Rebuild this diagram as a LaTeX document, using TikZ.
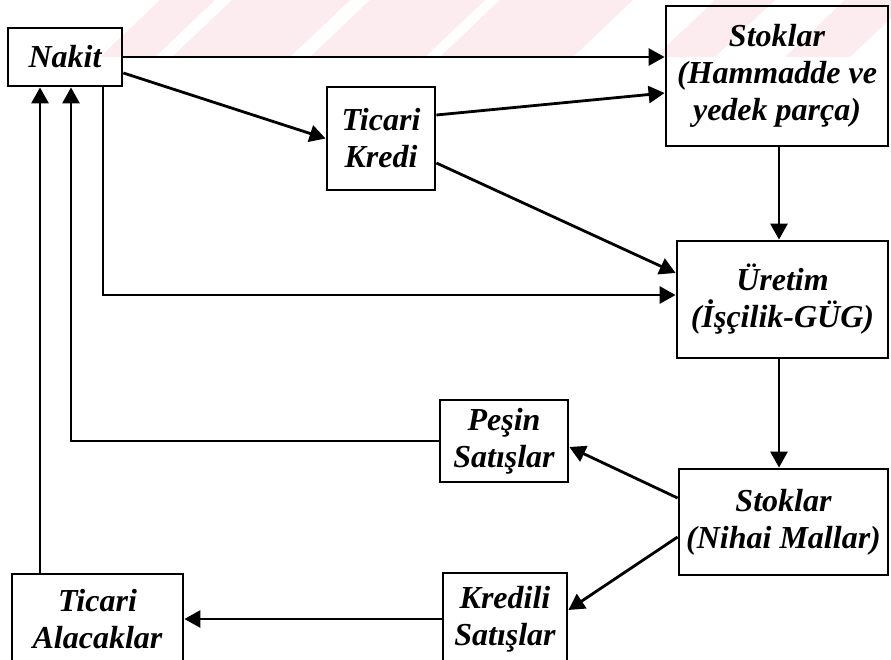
\documentclass[tikz,border=0pt]{standalone}
\usepackage{fontspec}
\setmainfont{Liberation Serif}
\usetikzlibrary{arrows.meta,calc,positioning}

\definecolor{wmpink}{RGB}{252,235,239}

\tikzset{
  box/.style={draw, line width=2.8pt, align=center, inner sep=2pt,
    font=\fontsize{32}{37}\selectfont\bfseries\itshape},
  flow/.style={line width=2.8pt, -{Triangle[length=16pt,width=17pt]}}
}

\begin{document}
\begin{tikzpicture}[x=1pt, y=-1pt, line cap=butt, line join=miter]
		\useasboundingbox (0,0) rectangle (891,660);
		
		% --- faint watermark bands at the top ---
		\foreach \a/\b in {100/155, 172/290, 310/425, 440/573, 655/715, 785/850}
			\fill[wmpink] (\a,57) -- (\b,57) -- (\b+60,0) -- (\a+60,0) -- cycle;
		
		% --- boxes ---
		\node[box, minimum width=114pt, minimum height=58pt] (nakit) at (65,57) {Nakit};
		\node[box, minimum width=108pt, minimum height=103pt] (tkredi) at (381,138.5) {Ticari\\Kredi};
		\node[box, minimum width=222pt, minimum height=140pt] (stokH) at (777,76) {Stoklar\\(Hammadde ve\\yedek parça)};
		\node[box, minimum width=211pt, minimum height=117pt] (uretim) at (782.5,299.5) {Üretim\\(İşçilik-GÜG)};
		\node[box, minimum width=128pt, minimum height=82pt] (pesin) at (504,441) {Peşin\\Satışlar};
		\node[box, minimum width=209pt, minimum height=106pt] (stokN) at (783.5,522) {Stoklar\\(Nihai Mallar)};
		\node[box, minimum width=124pt, minimum height=92pt] (kredili) at (505,619) {Kredili\\Satışlar};
		\node[box, minimum width=171pt, minimum height=91pt] (talacak) at (97.5,619.5) {Ticari\\Alacaklar};
		
		% feet of the three lines under Nakit
		\coordinate (nA) at ([xshift=-25pt]nakit.south);
		\coordinate (nB) at ([xshift=6pt]nakit.south);
		\coordinate (nC) at ([xshift=38pt]nakit.south);
		
		% --- flows out of Nakit ---
		\draw[flow] (nakit.east) -- (nakit.east -| stokH.west);
		\draw[flow] ([yshift=-16pt]nakit.east) -- (tkredi.west);
		\draw[flow] (nC) |- ([yshift=4.5pt]uretim.west);
		
		% --- Ticari Kredi to stocks and production ---
		\draw[flow] ([yshift=23.5pt]tkredi.east) -- ([yshift=-17pt]stokH.west);
		\draw[flow] ([yshift=-24.5pt]tkredi.east) -- ([yshift=26.5pt]uretim.west);
		
		% --- down the right column ---
		\draw[flow] ([xshift=2pt]stokH.south) -- ([xshift=2pt]stokH.south |- uretim.north);
		\draw[flow] ([xshift=-3.5pt]uretim.south) -- ([xshift=-3.5pt]uretim.south |- stokN.north);
		
		% --- sales ---
		\draw[flow] ([yshift=24pt]stokN.west) -- ([yshift=-6pt]pesin.east);
		\draw[flow] ([yshift=-15pt]stokN.west) -- ([yshift=9pt]kredili.east);
		\draw[flow] (kredili.west) -- (kredili.west -| talacak.east);
		
		% --- back to Nakit ---
		\draw[flow] (pesin.west) -| (nB);
		\draw[flow] (nA |- talacak.north) -- (nA);
		
	\end{tikzpicture}
\end{document}
